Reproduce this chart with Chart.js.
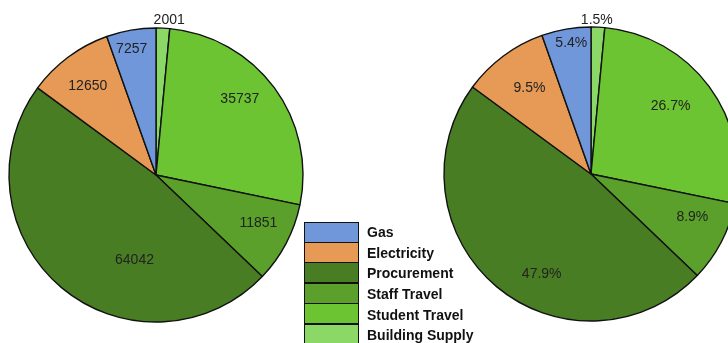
<!DOCTYPE html>
<html>
<head>
<meta charset="utf-8">
<script src="https://cdn.jsdelivr.net/npm/chart.js@4"></script>
<style>
  html, body { margin: 0; padding: 0; background: #fff; }
  body { width: 728px; height: 343px; overflow: hidden; position: relative; font-family: "Liberation Sans", Arial, sans-serif; }
  .pie { position: absolute; width: 340px; height: 340px; }
  #pieLeft { left: -14px; top: 5px; }
  #pieRight { left: 421px; top: 4px; }
  #legend { position: absolute; left: 304px; top: 222px; }
  .row { display: flex; align-items: center; height: 20.6px; }
  .sw { width: 53px; height: 19.1px; border: 1.5px solid #111; margin-top: -1.5px; box-sizing: content-box; }
  .row:first-child .sw { margin-top: 0; }
  .txt { margin-left: 8px; font-weight: bold; font-size: 14px; color: #111; }
</style>
</head>
<body>
<canvas id="pieLeft" class="pie" width="340" height="340"></canvas>
<canvas id="pieRight" class="pie" width="340" height="340"></canvas>
<div id="legend"></div>
<script>
// slices in drawing order, clockwise from 12 o'clock
const categories = ["Building Supply", "Student Travel", "Staff Travel", "Procurement", "Electricity", "Gas"];
const emissions = [2001, 35737, 11851, 64042, 12650, 7257];
const shares = [1.5, 26.7, 8.9, 47.9, 9.5, 5.4];
const colors = ["#8cd866", "#6cc432", "#5aa02a", "#487d23", "#e69a55", "#7097da"];

// legend lists the categories bottom-up
const legendOrder = ["Gas", "Electricity", "Procurement", "Staff Travel", "Student Travel", "Building Supply"];

const legend = document.getElementById("legend");
legendOrder.forEach(function (name) {
    const i = categories.indexOf(name);
    const row = document.createElement("div");
    row.className = "row";
    row.innerHTML = '<div class="sw" style="background:' + colors[i] + '"></div><div class="txt">' + name + "</div>";
    legend.appendChild(row);
});

// writes a value on each slice; place[i] = [fraction along the arc, fraction of radius]
const sliceLabels = {
    id: "sliceLabels",
    afterDatasetsDraw(chart, args, opts) {
        const ctx = chart.ctx;
        const meta = chart.getDatasetMeta(0);
        ctx.save();
        ctx.font = "14px 'Liberation Sans', Arial, sans-serif";
        ctx.fillStyle = "#222";
        ctx.textAlign = "center";
        ctx.textBaseline = "middle";
        meta.data.forEach(function (arc, i) {
            const p = opts.place[i];
            const a = arc.startAngle + (arc.endAngle - arc.startAngle) * p[0];
            const r = arc.outerRadius * p[1];
            ctx.fillText(opts.text[i], arc.x + Math.cos(a) * r, arc.y + Math.sin(a) * r);
        });
        ctx.restore();
    }
};

function makePie(id, values, text, place) {
    const ctx = document.getElementById(id).getContext("2d");
    return new Chart(ctx, {
        type: "pie",
        data: {
            labels: categories,
            datasets: [{
                data: values,
                backgroundColor: colors,
                borderColor: "#111",
                borderWidth: 1.4,
                borderAlign: "center",
                radius: 147,
            }],
        },
        options: {
            responsive: false,
            animation: false,
            events: [],
            plugins: {
                legend: { display: false },
                tooltip: { enabled: false },
                sliceLabels: { text: text, place: place },
            },
        },
        plugins: [sliceLabels],
    });
}

makePie("pieLeft", emissions, emissions.map(String),
    [[0.9, 1.06], [0.44, 0.77], [0.42, 0.77], [0.35, 0.6], [0.47, 0.76], [0.44, 0.87]]);

makePie("pieRight", shares, shares.map(function (v) { return v.toFixed(1) + "%"; }),
    [[0.4, 1.05], [0.46, 0.71], [0.36, 0.75], [0.42, 0.76], [0.53, 0.72], [0.56, 0.9]]);
</script>
</body>
</html>
